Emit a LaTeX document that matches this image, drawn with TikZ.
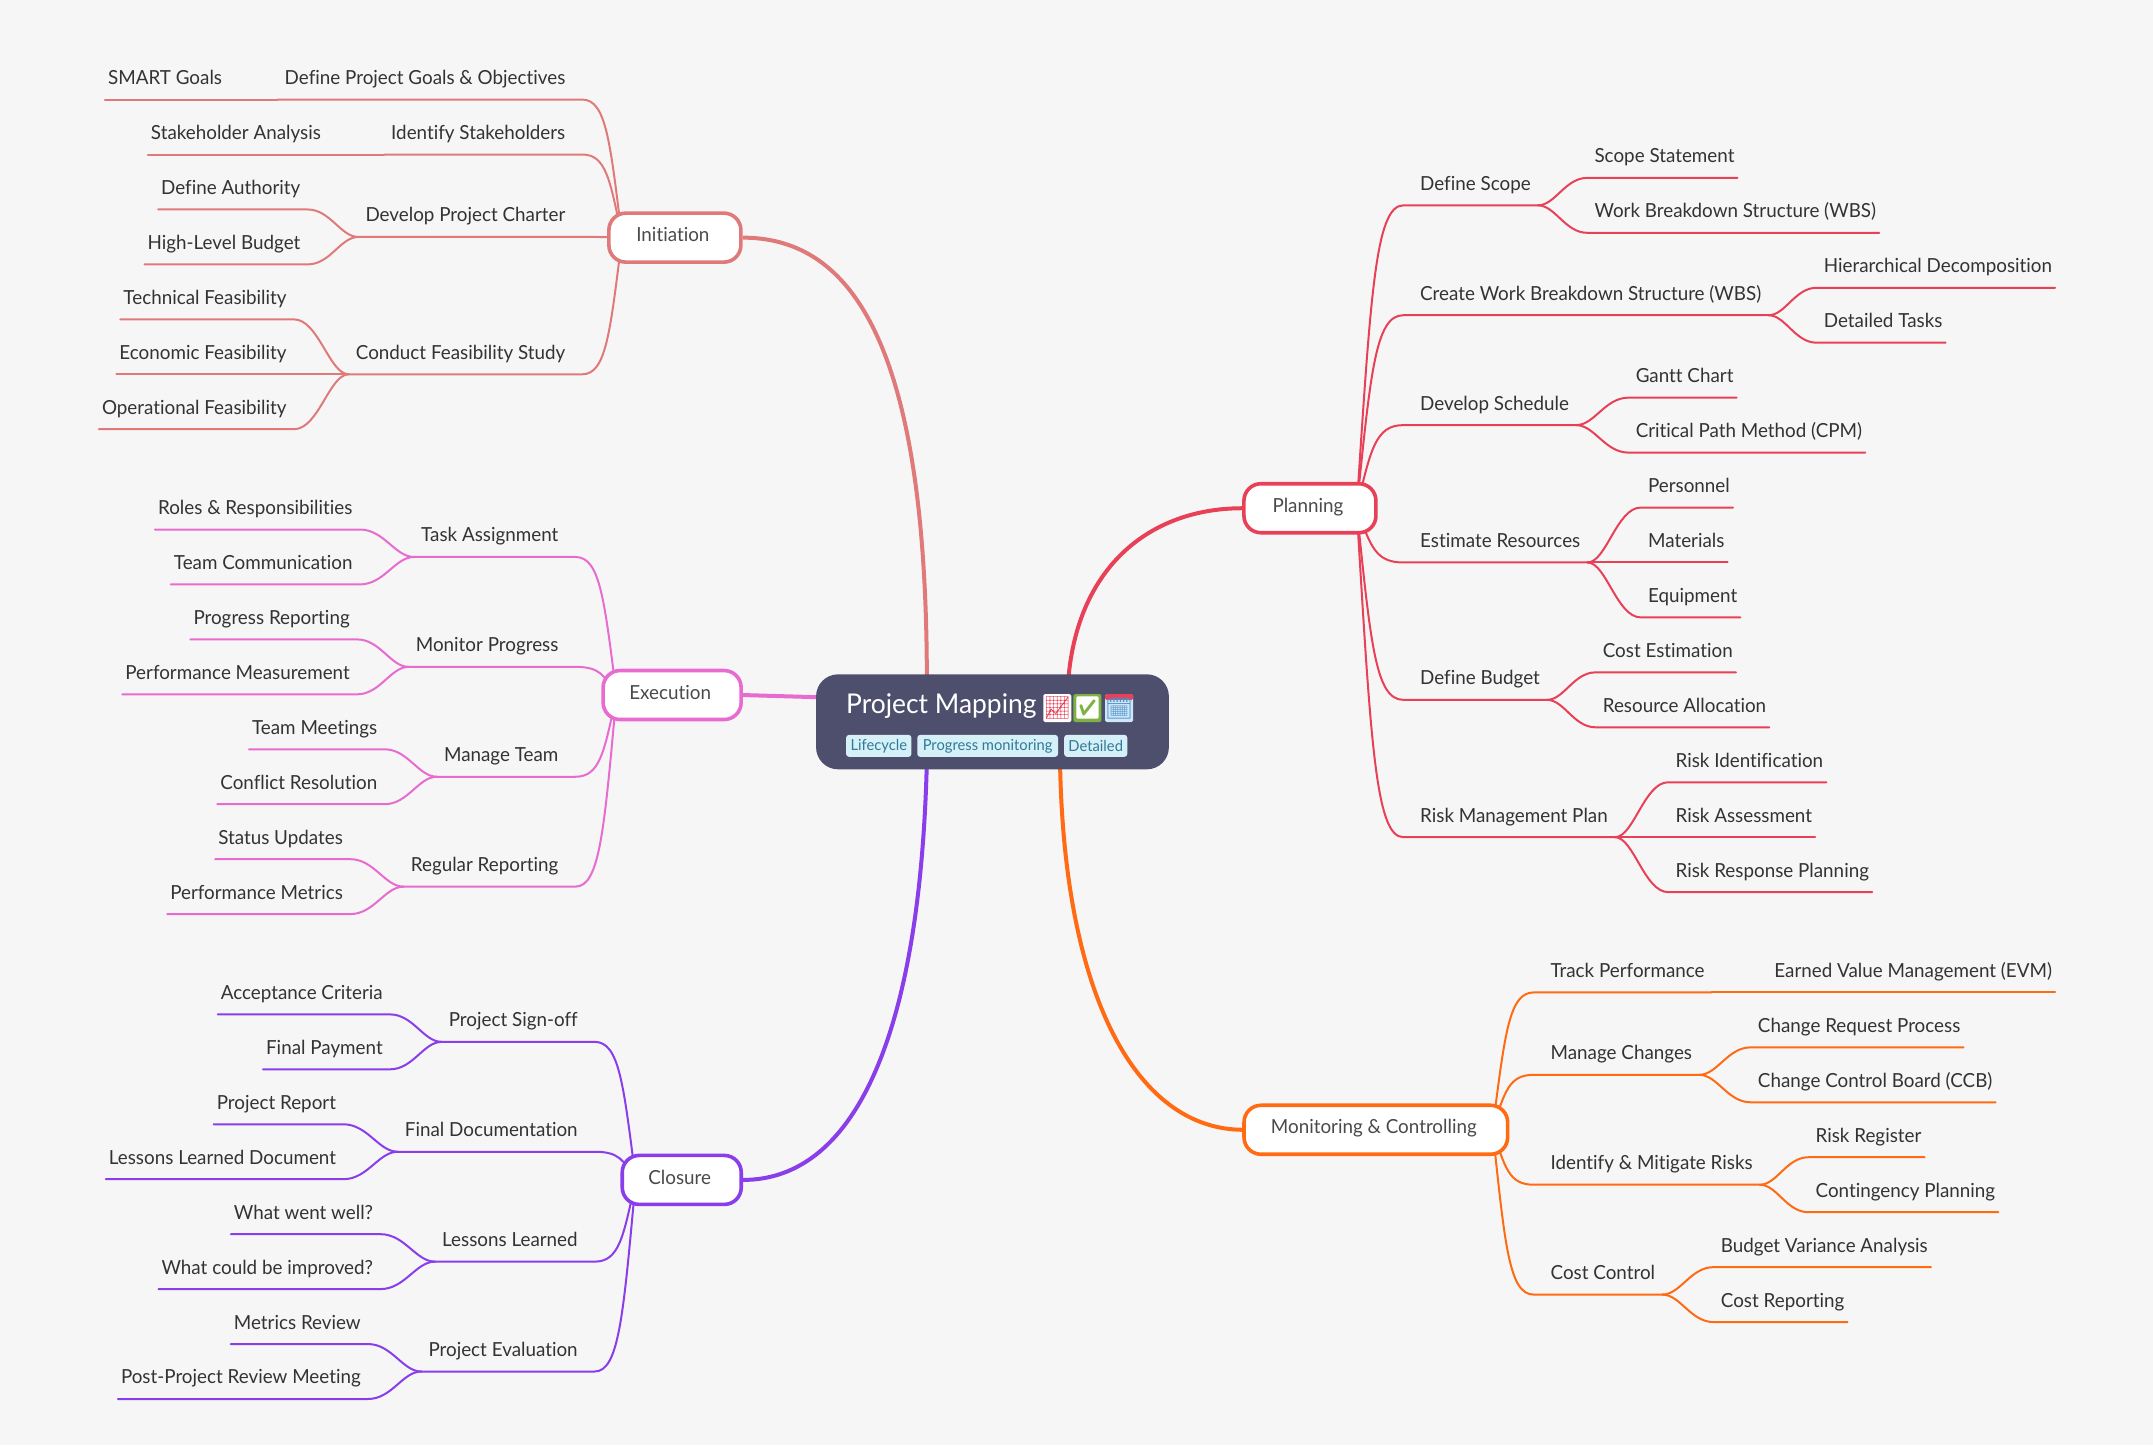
\documentclass[tikz,border=0pt]{standalone}
\usepackage{fontspec}
\setmainfont[FakeStretch=0.97,Ligatures=NoCommon]{Lato}
\newfontfamily\emojifont{Noto Emoji}
\usetikzlibrary{calc}
\definecolor{bgc}{HTML}{F6F6F6}
\definecolor{rootc}{HTML}{4D4F6C}
\definecolor{tagbg}{HTML}{D6F0F7}
\definecolor{tagtx}{HTML}{2F7A98}
\definecolor{txt}{HTML}{333333}
\definecolor{txtone}{HTML}{4A4A4A}
\definecolor{cinit}{HTML}{E07A7A}
\definecolor{cplan}{HTML}{E84057}
\definecolor{cexec}{HTML}{E86BD0}
\definecolor{cmon}{HTML}{FF6A13}
\definecolor{cclos}{HTML}{8A3DEB}
\definecolor{cgreen}{HTML}{7CB342}
\definecolor{ccal}{HTML}{CFE6F8}
\definecolor{ccalb}{HTML}{4A90C8}
\pgfdeclarelayer{bglayer}
\pgfdeclarelayer{lines}
\pgfsetlayers{bglayer,lines,main}
\tikzset{
  lab/.style={inner sep=0pt,text=txt,font=\fontsize{9.7}{12}\selectfont,text height=7pt,text depth=7.3pt,yshift=0.35pt},
  wire/.style={line width=1pt,line cap=round},
  mainwire/.style={line width=2pt},
  topic/.style={rectangle,rounded corners=8.5pt,draw,line width=1.8pt,fill=white,text=txtone,
     minimum height=24.5pt,inner sep=0pt,text height=8.2pt,text depth=4pt,font=\fontsize{9.7}{12}\selectfont,
     execute at end node=\hspace*{2pt}},
  tag/.style={rectangle,rounded corners=1.5pt,fill=tagbg,text=tagtx,inner sep=0pt,minimum height=11pt,
     font=\fontsize{7.6}{10}\selectfont},
  emo/.style={rectangle,rounded corners=0.8pt,inner sep=0pt,minimum width=14pt,minimum height=14pt,
     font=\emojifont\fontsize{11}{12}\selectfont}
}
\newcommand\wireA[3]{\begin{pgfonlayer}{lines}\draw[wire,draw=bc] let \p1=(#1),\p2=(#2) in (\p1)
  .. controls ({\x1+.3*(\x2-\x1)},{\y1+.7*(\y2-\y1)}) and ({\x1+.4*(\x2-\x1)},\y2) .. (\p2) -- (#3);\end{pgfonlayer}}
\newcommand\wireB[3]{\begin{pgfonlayer}{lines}\draw[wire,draw=bc] let \p1=(#1),\p2=(#2) in (\p1)
  .. controls ({\x1+.35*(\x2-\x1)},\y1) and ({\x1+.55*(\x2-\x1)},\y2) .. (\p2) -- (#3);\end{pgfonlayer}}
\newcommand\RA[5]{\node[lab,anchor=south west] (#1) at (#3,#4) {\hspace*{8.24pt}#5\hspace*{3.43pt}};\wireA{#2}{#1.south west}{#1.south east}}
\newcommand\RB[5]{\node[lab,anchor=south west] (#1) at (#3,#4) {\hspace*{3.43pt}#5\hspace*{1.37pt}};\wireB{#2.south east}{#1.south west}{#1.south east}}
\newcommand\LA[5]{\node[lab,anchor=south east] (#1) at (#3,#4) {\hspace*{3.43pt}#5\hspace*{8.24pt}};\wireA{#2}{#1.south east}{#1.south west}}
\newcommand\LB[5]{\node[lab,anchor=south east] (#1) at (#3,#4) {\hspace*{1.37pt}#5\hspace*{3.43pt}};\wireB{#2.south west}{#1.south east}{#1.south west}}
\begin{document}
\begin{tikzpicture}[x=0.68654pt,y=-0.68679pt]
\begin{pgfonlayer}{bglayer}
\fill[bgc] (0,0) rectangle (1568,1052);
\end{pgfonlayer}
\useasboundingbox (0,0) rectangle (1568,1052);
% root
\node[rectangle,rounded corners=11pt,fill=rootc,minimum width=176.4pt,minimum height=47.5pt,inner sep=0pt] (root) at (722.8,525.5) {};
\node[anchor=base west,inner sep=0pt,text=white,font=\fontsize{13.6}{18}\selectfont] (title) at (616,519.5) {Project Mapping};
\node[emo,fill=white,text=cplan] (e1) at (770,515.5) {📈};
\node[emo,fill=cgreen,text=white] (e2) at (792,515.5) {✅};
\node[emo,fill=ccal,text=ccalb,path picture={\fill[cplan] (path picture bounding box.north west) rectangle ([yshift=-3pt]path picture bounding box.north east);}] (e3) at (815,515.5) {🗓};
\node[tag,minimum width=32.7pt] (t1) at (640,543) {Lifecycle};
\node[tag,minimum width=70.4pt] (t2) at (719.3,543) {Progress monitoring};
\node[tag,minimum width=31.6pt] (t3) at (798,543) {Detailed};
% topics
\colorlet{bc}{cplan}
\node[topic,draw=cplan,minimum width=66pt] (planning) at (954,370) {Planning};
\coordinate (psrc) at (988,370);
\begin{pgfonlayer}{lines}\draw[mainwire,draw=cplan] (778,495) .. controls (785,410) and (840,370) .. (planning.west);\end{pgfonlayer}
\RA{scope}{psrc}{1022}{150}{Define Scope}
\RB{s1}{scope}{1156}{130}{Scope Statement}
\RB{s2}{scope}{1156}{170}{Work Breakdown Structure (WBS)}
\RA{wbs}{psrc}{1022}{230}{Create Work Breakdown Structure (WBS)}
\RB{w1}{wbs}{1323}{210}{Hierarchical Decomposition}
\RB{w2}{wbs}{1323}{250}{Detailed Tasks}
\RA{sched}{psrc}{1022}{310}{Develop Schedule}
\RB{d1}{sched}{1186}{290}{Gantt Chart}
\RB{d2}{sched}{1186}{330}{Critical Path Method (CPM)}
\RA{res}{psrc}{1022}{410}{Estimate Resources}
\RB{r1}{res}{1195}{370}{Personnel}
\RB{r2}{res}{1195}{410}{Materials}
\RB{r3}{res}{1195}{450}{Equipment}
\RA{bud}{psrc}{1022}{510}{Define Budget}
\RB{b1}{bud}{1162}{490}{Cost Estimation}
\RB{b2}{bud}{1162}{530}{Resource Allocation}
\RA{risk}{psrc}{1022}{610}{Risk Management Plan}
\RB{k1}{risk}{1215}{570}{Risk Identification}
\RB{k2}{risk}{1215}{610}{Risk Assessment}
\RB{k3}{risk}{1215}{650}{Risk Response Planning}

\colorlet{bc}{cmon}
\node[topic,draw=cmon,minimum width=131.8pt] (monitor) at (1002,822.5) {Monitoring \& Controlling};
\coordinate (msrc) at (1087,822);
\begin{pgfonlayer}{lines}\draw[mainwire,draw=cmon] (772,555) .. controls (775,730) and (830,822) .. (monitor.west);\end{pgfonlayer}
\RA{track}{msrc}{1117}{723}{Track Performance}
\RB{m1}{track}{1287}{723}{Earned Value Management (EVM)}
\RA{chg}{msrc}{1117}{783}{Manage Changes}
\RB{m2}{chg}{1275}{763}{Change Request Process}
\RB{m3}{chg}{1275}{803}{Change Control Board (CCB)}
\RA{mit}{msrc}{1117}{863}{Identify \& Mitigate Risks}
\RB{m4}{mit}{1317}{843}{Risk Register}
\RB{m5}{mit}{1317}{883}{Contingency Planning}
\RA{cost}{msrc}{1117}{943}{Cost Control}
\RB{m6}{cost}{1248}{923}{Budget Variance Analysis}
\RB{m7}{cost}{1248}{963}{Cost Reporting}

\colorlet{bc}{cinit}
\node[topic,draw=cinit,minimum width=66pt] (init) at (491.5,173) {Initiation};
\coordinate (isrc) at (453,173);
\begin{pgfonlayer}{lines}\draw[mainwire,draw=cinit] (675,495) .. controls (675,250) and (620,173) .. (init.east);\end{pgfonlayer}
\LA{goals}{isrc}{424}{73}{Define Project Goals \& Objectives}
\LB{i1}{goals}{167}{73}{SMART Goals}
\LA{stake}{isrc}{424}{113}{Identify Stakeholders}
\LB{i2}{stake}{239}{113}{Stakeholder Analysis}
\LA{char}{isrc}{424}{173}{Develop Project Charter}
\LB{i3}{char}{224}{153}{Define Authority}
\LB{i4}{char}{224}{193}{High-Level Budget}
\LA{feas}{isrc}{424}{273}{Conduct Feasibility Study}
\LB{i5}{feas}{214}{233}{Technical Feasibility}
\LB{i6}{feas}{214}{273}{Economic Feasibility}
\LB{i7}{feas}{214}{313}{Operational Feasibility}

\colorlet{bc}{cexec}
\node[topic,draw=cexec,minimum width=69pt] (exec) at (489.5,506) {Execution};
\coordinate (esrc) at (449,506);
\begin{pgfonlayer}{lines}\draw[mainwire,draw=cexec] (610,508) -- (exec.east);\end{pgfonlayer}
\LA{task}{esrc}{419}{406}{Task Assignment}
\LB{x1}{task}{262}{386}{Roles \& Responsibilities}
\LB{x2}{task}{262}{426}{Team Communication}
\LA{prog}{esrc}{419}{486}{Monitor Progress}
\LB{x3}{prog}{260}{466}{Progress Reporting}
\LB{x4}{prog}{260}{506}{Performance Measurement}
\LA{team}{esrc}{419}{566}{Manage Team}
\LB{x5}{team}{280}{546}{Team Meetings}
\LB{x6}{team}{280}{586}{Conflict Resolution}
\LA{rep}{esrc}{419}{646}{Regular Reporting}
\LB{x7}{rep}{255}{626}{Status Updates}
\LB{x8}{rep}{255}{666}{Performance Metrics}

\colorlet{bc}{cclos}
\node[topic,draw=cclos,minimum width=59.5pt] (clos) at (496.5,859) {Closure};
\coordinate (csrc) at (463,859);
\begin{pgfonlayer}{lines}\draw[mainwire,draw=cclos] (675,555) .. controls (670,760) and (620,859) .. (clos.east);\end{pgfonlayer}
\LA{sign}{csrc}{433}{759}{Project Sign-off}
\LB{c1}{sign}{284}{739}{Acceptance Criteria}
\LB{c2}{sign}{284}{779}{Final Payment}
\LA{doc}{csrc}{433}{839}{Final Documentation}
\LB{c3}{doc}{250}{819}{Project Report}
\LB{c4}{doc}{250}{859}{Lessons Learned Document}
\LA{less}{csrc}{433}{919}{Lessons Learned}
\LB{c5}{less}{277}{899}{What went well?}
\LB{c6}{less}{277}{939}{What could be improved?}
\LA{eval}{csrc}{433}{999}{Project Evaluation}
\LB{c7}{eval}{268}{979}{Metrics Review}
\LB{c8}{eval}{268}{1019}{Post-Project Review Meeting}
\end{tikzpicture}
\end{document}
